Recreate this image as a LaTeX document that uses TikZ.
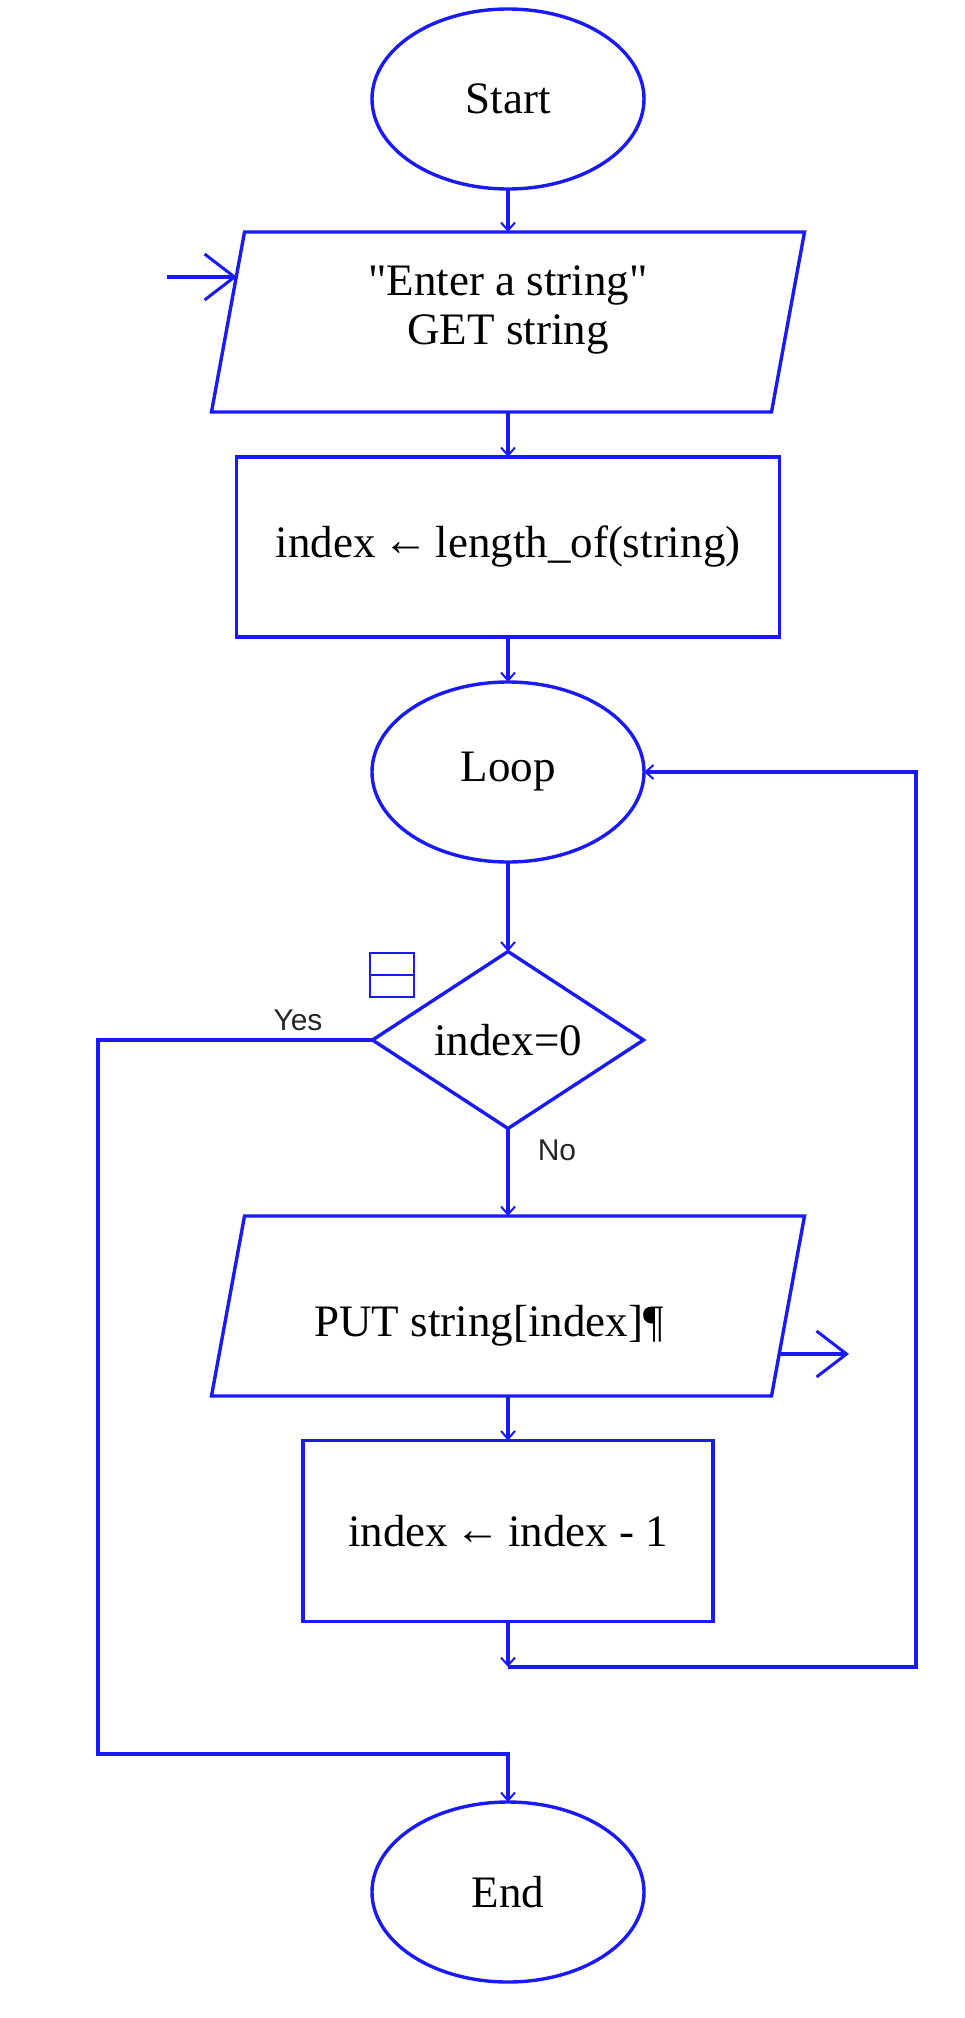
\documentclass[tikz,border=0pt]{standalone}
\usepackage{fontspec}
\setmainfont{Liberation Serif}[Ligatures=TeXOff]
\newfontfamily\labelfont{Liberation Sans}
\usetikzlibrary{shapes.geometric,arrows.meta}
\definecolor{flowblue}{RGB}{25,25,250}

\begin{document}
\begin{tikzpicture}[x=1pt,y=-1pt,
  line width=3.4pt,
  every node/.style={inner sep=0pt, outer sep=0pt, font=\fontsize{45}{49}\selectfont},
  terminal/.style={ellipse, draw=flowblue, minimum width=272pt, minimum height=180pt},
  process/.style={rectangle, draw=flowblue},
  iobox/.style={rectangle, minimum width=560pt, minimum height=180pt},
  decision/.style={diamond, draw=flowblue, minimum width=271pt, minimum height=177pt, aspect=1.53},
  conn/.style={draw=flowblue, -{Straight Barb[length=8pt,width=14pt,line width=2pt]}},
  flow/.style={draw=flowblue, -{Straight Barb[length=30pt,width=46pt,line width=3pt]}},
  branch/.style={font=\labelfont\fontsize{30}{30}\selectfont, text=black!85},
  slant/.style={draw=flowblue, line join=miter}
]
\useasboundingbox (0,0) rectangle (964,2018);

% terminals
\node[terminal] (start) at (508,99) {Start};
\node[terminal] (loop) at (508,772) {Loop};
\node[terminal] (end) at (508,1892) {End};

% input parallelogram
\node[iobox] (get) at (508,322) {};
\draw[slant] ([xshift=16.5pt]get.north west) -- ([xshift=16.5pt]get.north east)
  -- ([xshift=-16.5pt]get.south east) -- ([xshift=-16.5pt]get.south west) -- cycle;
\node[align=center] (gettext) at (508,310) {"Enter a string"\\GET string};

% assignment
\node[process, minimum width=543pt, minimum height=180pt] (len) at (508,547)
  {index\,\raisebox{0.05em}{←}\,length\_of(string)};

% decision
\node[decision] (test) at (508,1040) {index=0};
\node[draw=flowblue, line width=2.8pt, minimum width=44pt, minimum height=44pt] (icon) at (392,975) {};
\draw[flowblue, line width=2.8pt] (icon.west) -- (icon.east);

% output parallelogram
\node[iobox] (put) at (508,1306) {};
\draw[slant] ([xshift=16.5pt]put.north west) -- ([xshift=16.5pt]put.north east)
  -- ([xshift=-16.5pt]put.south east) -- ([xshift=-16.5pt]put.south west) -- cycle;
\node (puttext) at (489,1326) {PUT string[index]¶};

% decrement
\node[process, minimum width=410pt, minimum height=181pt] (dec) at (508,1531)
  {index\,\raisebox{0.05em}{←}\,index - 1};

% branch labels
\node[branch] (yes) at (298,1020) {Yes};
\node[branch] (no) at (557,1150) {No};

% helper points
\coordinate (inStart) at (167,277);
\coordinate (inEnd) at (237,277);
\coordinate (outStart) at (779,1354);
\coordinate (outEnd) at (849,1354);
\coordinate (join) at (508,1667);
\coordinate (back) at (916,1667);
\coordinate (yesCorner) at (98,1754);

% connectors
\draw[conn] (start) -- (get);
\draw[flow] (inStart) -- (inEnd);
\draw[conn] (get) -- (len);
\draw[conn] (len) -- (loop);
\draw[conn] (loop) -- (test);
\draw[conn] (test.south) -- (put.north);
\draw[conn] (put) -- (dec);
\draw[flow] (outStart) -- (outEnd);
\draw[conn] (dec.south) -- (join);
\draw[conn] (join) -- (back) |- (loop.east);
\draw[conn] (test.west) -| (yesCorner) -| (end.north);
\end{tikzpicture}
\end{document}
